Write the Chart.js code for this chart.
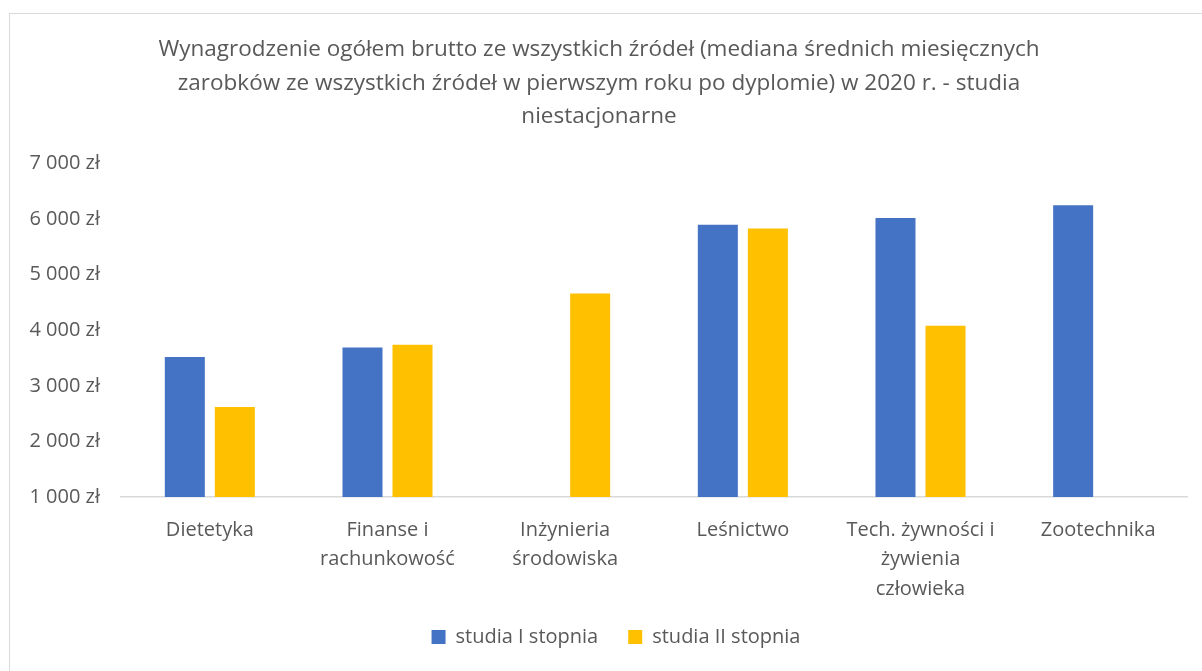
<!DOCTYPE html>
<html>
<head>
<meta charset="utf-8">
<script src="https://cdn.jsdelivr.net/npm/chart.js@4.4.1/dist/chart.umd.min.js"></script>
<style>
  html, body { margin: 0; padding: 0; background: #ffffff; }
  #wrap { position: relative; width: 1202px; height: 671px; overflow: hidden; }
  #frame { position: absolute; left: 9px; top: 13px; width: 1300px; height: 800px; border: 1px solid #d9d9d9; box-sizing: border-box; pointer-events: none; }
  canvas { position: absolute; left: 0; top: 0; }
</style>
</head>
<body>
<div id="wrap">
  <canvas id="c" width="1202" height="671"></canvas>
  <div id="frame"></div>
</div>
<script>
const titleLines = [
  "Wynagrodzenie ogółem brutto ze wszystkich źródeł (mediana średnich miesięcznych",
  "zarobków ze wszystkich źródeł w pierwszym roku po dyplomie) w 2020 r. - studia",
  "niestacjonarne"
];
const categories = [
  ["Dietetyka"],
  ["Finanse i", "rachunkowość"],
  ["Inżynieria", "środowiska"],
  ["Leśnictwo"],
  ["Tech. żywności i", "żywienia", "człowieka"],
  ["Zootechnika"]
];
const seriesNames = ["studia I stopnia", "studia II stopnia"];
const studiaI  = [3520, 3690, null, 5900, 6020, 6250];
const studiaII = [2620, 3740, 4660, 5830, 4080, null];
const yTickValues = [1000, 2000, 3000, 4000, 5000, 6000, 7000];
const yTickLabels = ["1 000 zł", "2 000 zł", "3 000 zł", "4 000 zł", "5 000 zł", "6 000 zł", "7 000 zł"];

const FONT = "'Open Sans', sans-serif";
const TEXT = "#595959";

const legendShift = {
  id: "legendShift",
  afterLayout(chart) {
    const lg = chart.legend;
    if (lg) { lg.left += 17; lg.right += 17; }
  }
};

new Chart(document.getElementById("c"), {
  type: "bar",
  data: {
    labels: categories,
    datasets: [
      { label: seriesNames[0], data: studiaI, backgroundColor: "#4472C4", categoryPercentage: 0.563, barPercentage: 0.8 },
      { label: seriesNames[1], data: studiaII, backgroundColor: "#FFC000", categoryPercentage: 0.563, barPercentage: 0.8 }
    ]
  },
  plugins: [legendShift],
  options: {
    responsive: false,
    animation: false,
    layout: { padding: { left: 11, right: 15, top: 13, bottom: 14 } },
    plugins: {
      title: {
        display: true,
        text: titleLines,
        color: TEXT,
        font: { family: FONT, size: 22.5, weight: "normal", lineHeight: 33.5 / 22.5 },
        padding: { top: 20, bottom: 30 }
      },
      legend: {
        position: "bottom",
        labels: {
          color: TEXT,
          font: { family: FONT, size: 20 },
          boxWidth: 14,
          boxHeight: 14,
          padding: 30
        }
      },
      tooltip: { enabled: false }
    },
    scales: {
      x: {
        grid: { display: false },
        border: { display: true, color: "#d9d9d9", width: 1.5 },
        ticks: {
          color: TEXT,
          font: { family: FONT, size: 20, lineHeight: 29.5 / 20 },
          padding: 10.5,
          maxRotation: 0,
          autoSkip: false
        },
        afterFit: (s) => { s.height = 100; }
      },
      y: {
        min: 1000,
        max: 7000,
        afterBuildTicks: (s) => { s.ticks = yTickValues.map(v => ({ value: v })); },
        grid: { display: false, drawTicks: false },
        border: { display: false },
        ticks: {
          color: TEXT,
          font: { family: FONT, size: 20 },
          padding: 21,
          callback: (v, i) => yTickLabels[i]
        },
        afterFit: (s) => { s.width = 110; }
      }
    }
  }
});
</script>
</body>
</html>
